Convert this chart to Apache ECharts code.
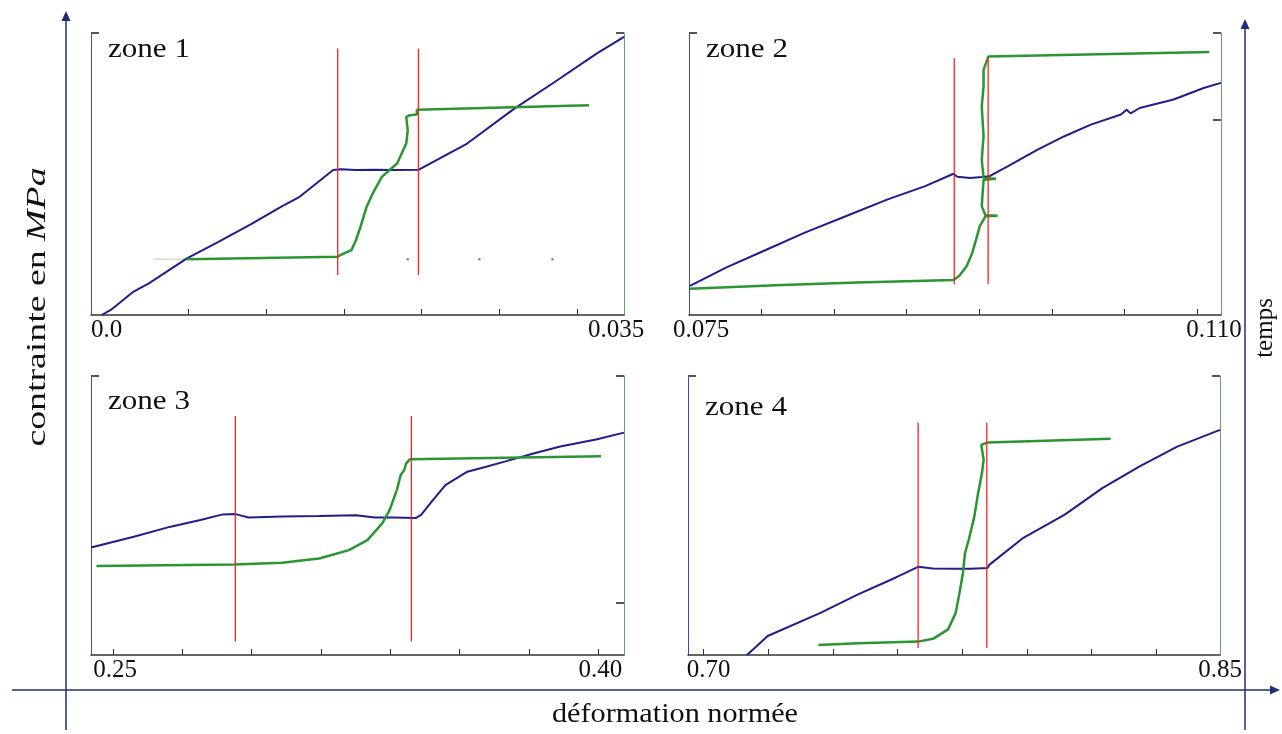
<!DOCTYPE html>
<html>
<head>
<meta charset="utf-8">
<script src="https://cdn.jsdelivr.net/npm/echarts@6/dist/echarts.min.js"></script>
<style>
  html, body { margin: 0; padding: 0; background: #fff; }
  #main { width: 1282px; height: 734px; }
</style>
</head>
<body>
<div id="main"></div>
<script>
// police type Times
var FONT = '"Liberation Serif", "DejaVu Serif", serif';

// zone 1
var z1Range = [0, 0.035];
var z1Ticks = [0.0064, 0.0115, 0.0166, 0.0217, 0.0268, 0.0319];
var z1Labels = [0, 0.035];
var z1LabelText = ['0.0', '0.035'];
var z1Blue = [[0.0007, 0], [0.0013, 1.8], [0.0028, 8.3], [0.0038, 11.2], [0.0063, 20.1],
  [0.0084, 26.0], [0.0106, 32.5], [0.0125, 38.4], [0.0137, 41.9], [0.0159, 51.4],
  [0.0164, 51.7], [0.0174, 51.4], [0.0186, 51.5], [0.0198, 51.4], [0.0215, 51.5],
  [0.0247, 60.8], [0.0278, 73.2], [0.0303, 82.1], [0.0332, 92.7], [0.035, 98.6]];
var z1Green = [[0.0063, 19.8], [0.0162, 20.7], [0.0164, 21.3], [0.0171, 23.0], [0.0174, 26.6],
  [0.0177, 31.3], [0.0181, 38.4], [0.0185, 43.1], [0.0191, 49.0], [0.0196, 51.4],
  [0.0201, 53.7], [0.0204, 57.3], [0.0207, 60.8], [0.0208, 65.5], [0.0207, 70.2],
  [0.0209, 70.8], [0.0214, 71.1], [0.0214, 72.8], [0.0327, 74.4]];
var z1Faint = [[0.0041, 19.8], [0.0063, 19.8]];
var z1Dots = [[0.0208, 19.8], [0.0255, 19.8], [0.0303, 19.8]];
var z1Red = [0.0162, 0.0215];
var z1RedSpan = [14.2, 94.5];
var z1RightTicks = [100];

// zone 2
var z2Range = [0.075, 0.110];
var z2Ticks = [0.07977, 0.08455, 0.08932, 0.0941, 0.09887, 0.10365, 0.10842];
var z2Labels = [0.075, 0.110];
var z2LabelText = ['0.075', '0.110'];
var z2Blue = [[0.07507, 10.3], [0.07743, 16.8], [0.0799, 22.7], [0.08262, 29.2], [0.08535, 35.1],
  [0.08807, 41.0], [0.09054, 45.7], [0.0924, 50.1], [0.09265, 49.0], [0.09351, 48.6],
  [0.09426, 48.9], [0.09475, 49.2], [0.09599, 52.8], [0.09797, 58.7], [0.0997, 63.4],
  [0.10144, 67.5], [0.10342, 71.1], [0.10379, 72.8], [0.10405, 71.5], [0.10465, 73.4],
  [0.10688, 76.4], [0.10886, 80.5], [0.110, 82.3]];
var z2Green = [[0.07507, 9.3], [0.08114, 10.6], [0.08609, 11.5], [0.0924, 12.4], [0.09277, 13.8],
  [0.09327, 17.4], [0.09364, 22.1], [0.09389, 26.8], [0.09413, 31.5], [0.0945, 35.0],
  [0.0953, 35.2], [0.0945, 35.4], [0.09426, 38.6], [0.09438, 48.0], [0.0952, 48.3],
  [0.09438, 48.6], [0.09426, 55.1], [0.09438, 63.4], [0.09426, 74.0], [0.09438, 81.1],
  [0.09438, 87.0], [0.0947, 91.7], [0.10923, 93.3]];
var z2Red = [0.09245, 0.09468];
var z2RedSpan = [10.9, 91.1];
var z2RightTicks = [100, 69.3];

// zone 3
var z3Range = [0.2432, 0.4079];
var z3Ticks = [0.25, 0.27143, 0.29286, 0.31429, 0.33571, 0.35714, 0.37857, 0.40];
var z3Labels = [0.25, 0.40];
var z3LabelText = ['0.25', '0.40'];
var z3Blue = [[0.2432, 38.5], [0.2564, 42.4], [0.2678, 46.0], [0.277, 48.4], [0.2839, 50.4],
  [0.2879, 50.5], [0.2919, 49.3], [0.3022, 49.6], [0.3137, 49.8], [0.3251, 50.1],
  [0.3309, 49.3], [0.3366, 49.3], [0.3435, 49.1], [0.3452, 50.2], [0.3481, 54.4],
  [0.3527, 60.9], [0.3595, 65.7], [0.3653, 67.5], [0.371, 69.3], [0.3802, 72.3],
  [0.3882, 74.7], [0.3996, 77.3], [0.4079, 79.7]];
var z3Green = [[0.2449, 31.9], [0.2873, 32.4], [0.3022, 33.1], [0.3137, 34.6], [0.3229, 37.6],
  [0.3286, 41.2], [0.3332, 47.2], [0.3355, 52.0], [0.3377, 59.1], [0.3389, 64.5],
  [0.34, 66.3], [0.3406, 68.7], [0.3418, 70.2], [0.3415, 70.6], [0.4008, 71.2]];
var z3Red = [0.2878, 0.3422];
var z3RedSpan = [4.8, 85.7];
var z3RightTicks = [100, 18.9];

// zone 4
var z4Range = [0.6955, 0.8497];
var z4Ticks = [0.70, 0.71875, 0.7375, 0.75625, 0.775, 0.79375, 0.8125, 0.83125];
var z4Labels = [0.70, 0.8497];
var z4LabelText = ['0.70', '0.85'];
var z4Blue = [[0.7126, 0], [0.7186, 6.8], [0.7339, 15.1], [0.7448, 21.7], [0.7556, 27.7],
  [0.7622, 31.6], [0.7665, 31.0], [0.772, 30.9], [0.7774, 30.9], [0.7823, 31.2],
  [0.7829, 32.4], [0.7927, 42.0], [0.8047, 50.3], [0.8156, 59.8], [0.8264, 67.6],
  [0.8373, 74.7], [0.8497, 80.7]];
var z4Green = [[0.7333, 3.6], [0.7448, 4.2], [0.7622, 4.8], [0.7665, 5.8], [0.7709, 9.2],
  [0.7731, 15.1], [0.7742, 22.3], [0.7752, 29.4], [0.7758, 36.6], [0.7769, 41.4],
  [0.7785, 49.7], [0.7796, 58.1], [0.7807, 65.2], [0.7812, 70.0], [0.7805, 75.3],
  [0.7823, 76.2], [0.818, 77.5]];
var z4Red = [0.7622, 0.7821];
var z4RedSpan = [2.5, 83.3];
var z4RightTicks = [100];

// pad: décalage des étiquettes [gauche, droite] en px
var zones = [
  {name: 'zone 1', range: z1Range, ticks: z1Ticks, labels: z1Labels, text: z1LabelText,
    blue: z1Blue, green: z1Green, red: z1Red, span: z1RedSpan, rTicks: z1RightTicks,
    grid: {left: 91, top: 33, width: 533, height: 282}, nameY: 50, minAlign: 'left',
    pad: [[0, 0, 0, 0], [0, 16, 0, 0]]},
  {name: 'zone 2', range: z2Range, ticks: z2Ticks, labels: z2Labels, text: z2LabelText,
    blue: z2Blue, green: z2Green, red: z2Red, span: z2RedSpan, rTicks: z2RightTicks,
    grid: {left: 689, top: 33, width: 532, height: 282}, nameY: 50, minAlign: 'center',
    pad: [[0, 0, 0, 24], [0, 14, 0, 0]]},
  {name: 'zone 3', range: z3Range, ticks: z3Ticks, labels: z3Labels, text: z3LabelText,
    blue: z3Blue, green: z3Green, red: z3Red, span: z3RedSpan, rTicks: z3RightTicks,
    grid: {left: 91, top: 376, width: 533, height: 279}, nameY: 402, minAlign: 'center',
    pad: [[0, 0, 0, 4], [0, 0, 0, 4]]},
  {name: 'zone 4', range: z4Range, ticks: z4Ticks, labels: z4Labels, text: z4LabelText,
    blue: z4Blue, green: z4Green, red: z4Red, span: z4RedSpan, rTicks: z4RightTicks,
    grid: {left: 688, top: 376, width: 532, height: 279}, nameY: 408, minAlign: 'center',
    pad: [[0, 0, 0, 10], [0, 0, 0, 0]]}
];

var BLUE = '#1e1e8c';
var GREEN = '#2a9632';
var RED = '#ff2020';

var grids = [], xAxes = [], yAxes = [], series = [], graphics = [];

zones.forEach(function (z, i) {
  grids.push(z.grid);

  xAxes.push({
    gridIndex: i, type: 'value', min: z.range[0], max: z.range[1],
    axisLine: {onZero: false, lineStyle: {color: '#333', width: 1.5}},
    axisTick: {show: true, inside: true, length: 6, customValues: z.ticks,
      lineStyle: {color: '#333', width: 1}},
    axisLabel: {show: true, customValues: z.labels, fontFamily: FONT, fontSize: 25, color: '#111',
      margin: 3, showMinLabel: true, showMaxLabel: true,
      alignMinLabel: z.minAlign, alignMaxLabel: 'center',
      rich: {
        a: {fontFamily: FONT, fontSize: 25, color: '#111', padding: z.pad[0]},
        b: {fontFamily: FONT, fontSize: 25, color: '#111', padding: z.pad[1]}
      },
      formatter: function (v) {
        for (var k = 0; k < z.labels.length; k++) {
          if (Math.abs(v - z.labels[k]) < 1e-6) {
            return '{' + (k === 0 ? 'a' : 'b') + '|' + z.text[k] + '}';
          }
        }
        return '';
      }},
    splitLine: {show: false}
  });

  // axe gauche (contrainte)
  yAxes.push({
    gridIndex: i, type: 'value', min: 0, max: 100, position: 'left',
    axisLine: {show: true, lineStyle: {color: '#4646b4', width: 1}},
    axisTick: {show: true, inside: true, length: 8, customValues: [100],
      lineStyle: {color: '#555', width: 2}},
    axisLabel: {show: false},
    splitLine: {show: false}
  });
  // axe droit (temps)
  yAxes.push({
    gridIndex: i, type: 'value', min: 0, max: 100, position: 'right',
    axisLine: {show: true, lineStyle: {color: '#5cae5c', width: 1}},
    axisTick: {show: true, inside: true, length: 8, customValues: z.rTicks,
      lineStyle: {color: '#555', width: 2}},
    axisLabel: {show: false},
    splitLine: {show: false}
  });

  series.push({
    type: 'line', xAxisIndex: i, yAxisIndex: 2 * i, data: z.blue,
    showSymbol: false, lineStyle: {color: BLUE, width: 2}, z: 3
  });
  series.push({
    type: 'line', xAxisIndex: i, yAxisIndex: 2 * i + 1, data: z.green,
    showSymbol: false, lineStyle: {color: GREEN, width: 2.5}, z: 4
  });
  z.red.forEach(function (x) {
    series.push({
      type: 'line', xAxisIndex: i, yAxisIndex: 2 * i, data: [[x, z.span[0]], [x, z.span[1]]],
      showSymbol: false, lineStyle: {color: RED, width: 1.3}, z: 5
    });
  });

  graphics.push({
    type: 'text', x: z.grid.left + 17, y: z.nameY, scaleX: 1.15,
    style: {text: z.name, font: '27px ' + FONT, fill: '#111', verticalAlign: 'middle'}
  });
});

// petits restes de la zone 1
series.push({
  type: 'line', xAxisIndex: 0, yAxisIndex: 1, data: z1Faint,
  showSymbol: false, lineStyle: {color: '#c6d8c6', width: 1.2}, z: 2
});
series.push({
  type: 'scatter', xAxisIndex: 0, yAxisIndex: 1, data: z1Dots,
  symbolSize: 2.5, itemStyle: {color: '#666'}, z: 2
});

// grands axes du schéma
var AX = '#1f2f75';
graphics.push(
  {type: 'line', shape: {x1: 66, y1: 18, x2: 66, y2: 730}, style: {stroke: AX, lineWidth: 1.5}},
  {type: 'polygon', shape: {points: [[66, 11], [61.5, 21], [70.5, 21]]}, style: {fill: AX}},
  {type: 'line', shape: {x1: 12, y1: 690, x2: 1272, y2: 690}, style: {stroke: AX, lineWidth: 1.5}},
  {type: 'polygon', shape: {points: [[1280, 690], [1270, 685.5], [1270, 694.5]]}, style: {fill: AX}},
  {type: 'line', shape: {x1: 1245, y1: 26, x2: 1245, y2: 730}, style: {stroke: AX, lineWidth: 1.5}},
  {type: 'polygon', shape: {points: [[1245, 19], [1240.5, 29], [1249.5, 29]]}, style: {fill: AX}},
  {type: 'text', x: 675, y: 715, scaleX: 1.12,
    style: {text: 'déformation normée', font: '27px ' + FONT, fill: '#111',
      align: 'center', verticalAlign: 'middle'}},
  {type: 'text', x: 38, y: 307, rotation: Math.PI / 2, scaleX: 1.35,
    style: {text: '{n|contrainte en }{i|MPa}', align: 'center', verticalAlign: 'middle',
      rich: {n: {font: '28px ' + FONT, fill: '#111'}, i: {font: 'italic 28px ' + FONT, fill: '#111'}}}},
  {type: 'text', x: 1265, y: 328, rotation: Math.PI / 2,
    style: {text: 'temps', font: '25px ' + FONT, fill: '#111',
      align: 'center', verticalAlign: 'middle'}}
);

var myChart = echarts.init(document.getElementById('main'));
myChart.setOption({
  animation: false,
  backgroundColor: '#fff',
  grid: grids,
  xAxis: xAxes,
  yAxis: yAxes,
  series: series,
  graphic: graphics
});
</script>
</body>
</html>
